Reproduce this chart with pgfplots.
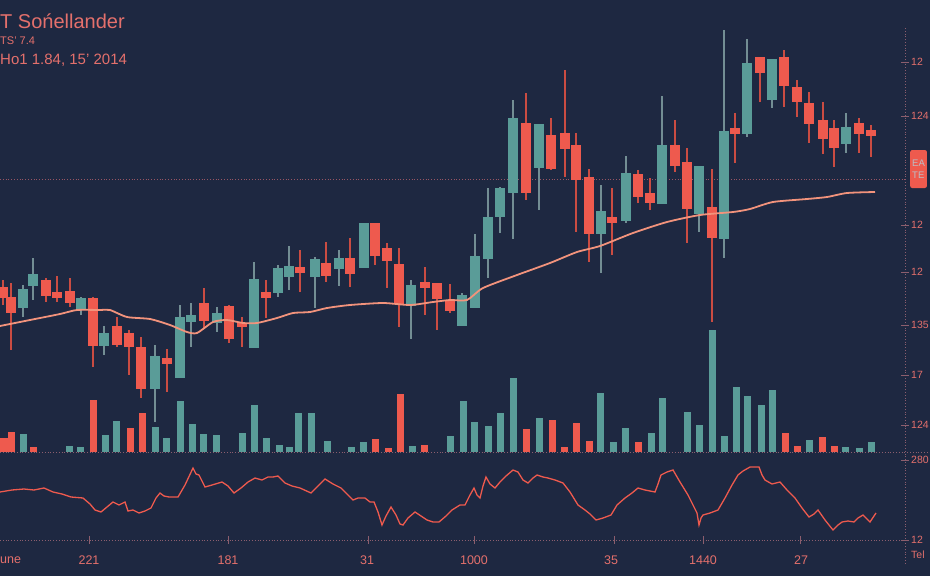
\documentclass[border=0pt]{standalone}
\usepackage{pgfplots}
\pgfplotsset{compat=1.18}
\usepackage{pgfplotstable}
\usepackage{fontspec}
\setmainfont{Liberation Sans}
\definecolor{bg}{HTML}{1E2841}
\definecolor{up}{HTML}{5A9C98}
\definecolor{upwick}{HTML}{738E94}
\definecolor{dn}{HTML}{EE5A4E}
\definecolor{ma}{HTML}{F2937C}
\definecolor{txt}{HTML}{E4706C}
\definecolor{dotc}{HTML}{8C5E6E}

% candles in picture units (y grows downward): wick top, body top, body bottom, wick bottom
\pgfplotstableread{
x wt bt bb wb
23 285 289 307 317
33 258 274 285 300
81 297 298 308 315
104 326 333 345 355
155 345 356 388 422
180 305 317 377 378
191 303 315 321 347
217 307 313 322 332
254 262 279 347 347
278 265 268 292 297
289 246 266 276 290
315 257 259 276 308
339 250 258 268 286
364 223 223 267 268
411 280 285 305 339
462 293 295 325 326
475 234 256 307 307
488 188 217 258 278
500 187 188 216 233
513 100 118 192 239
539 124 124 167 210
601 185 211 233 273
626 156 173 220 223
662 96 145 203 203
699 166 166 213 232
724 30 131 238 258
747 39 63 133 137
772 59 59 99 108
846 113 127 143 153
}\upc

\pgfplotstableread{
x wt bt bb wb
3 280 287 297 305
11 283 297 312 350
46 278 280 295 302
57 276 292 297 302
70 278 291 302 307
93 297 298 345 367
117 317 326 344 347
129 330 333 346 375
141 337 347 388 398
167 349 358 363 392
204 288 303 320 328
229 305 306 338 343
242 317 323 326 347
266 280 292 297 318
300 250 267 272 292
326 242 263 275 282
350 238 258 273 287
375 223 223 255 265
387 243 248 260 288
399 248 264 303 327
425 267 282 287 315
437 283 283 298 330
450 284 300 310 313
526 93 123 192 200
551 118 135 168 170
565 70 133 148 177
576 133 145 179 232
589 169 177 233 262
612 188 217 222 255
638 170 174 196 203
650 178 193 202 210
675 120 145 165 172
687 148 162 208 243
712 169 207 237 322
735 113 128 133 163
760 57 57 72 102
784 50 57 85 107
797 80 87 101 117
809 92 103 123 143
823 102 120 138 154
834 120 128 147 167
859 118 123 133 153
871 125 130 135 157
}\dnc

% volume bars: x, top (baseline 452)
\pgfplotstableread{
x t
23 434
69 446
80 447
105 435
116 421
155 427
166 438
180 401
192 424
203 434
216 435
242 433
254 405
266 438
279 445
289 447
298 413
311 413
327 441
351 447
363 442
412 446
450 436
463 401
474 422
488 426
500 413
513 378
539 418
600 393
613 442
625 428
651 433
662 398
687 412
699 425
712 330
724 436
736 387
747 396
761 405
772 390
809 440
845 447
859 448
871 442
}\upv

\pgfplotstableread{
x t
4 438
11 432
33 447
93 400
130 428
142 413
375 439
388 448
400 394
424 445
526 429
552 420
564 447
576 423
589 441
638 442
785 433
797 446
822 437
834 446
}\dnv

\begin{document}
\begin{tikzpicture}
\begin{axis}[
  scale only axis, width=930pt, height=576pt,
  xmin=0, xmax=930, ymin=0, ymax=576, y dir=reverse,
  hide axis, clip=true]
\fill[bg] (axis cs:0,0) rectangle (axis cs:930,576);

% guide lines
\draw[dotc!90!red, dotted, line width=0.8pt] (axis cs:0,179) -- (axis cs:905,179);
\draw[dotc, dotted, line width=0.8pt] (axis cs:0,452) -- (axis cs:930,452);
\draw[dotc, dotted, line width=0.8pt] (axis cs:0,540) -- (axis cs:905,540);
\draw[dotc, dotted, line width=0.8pt] (axis cs:905,28) -- (axis cs:905,565);
\pgfplotsinvokeforeach{62,116,225,272,325,375,425,460,540}{
  \draw[dotc, line width=0.6pt] (axis cs:901,#1) -- (axis cs:909,#1);}
\pgfplotsinvokeforeach{89,228,368,474,614,703,800}{
  \draw[dotc, line width=0.6pt] (axis cs:#1,536) -- (axis cs:#1,544);}

% volume
\addplot[draw=none, forget plot, error bars/.cd, y dir=plus, y explicit, error mark=none,
  error bar style={draw=up, line width=7pt}]
  table[x=x, y=t, y error expr={452-\thisrow{t}}] {\upv};
\addplot[draw=none, forget plot, error bars/.cd, y dir=plus, y explicit, error mark=none,
  error bar style={draw=dn, line width=7pt}]
  table[x=x, y=t, y error expr={452-\thisrow{t}}] {\dnv};

% wicks
\addplot[draw=none, forget plot, error bars/.cd, y dir=plus, y explicit, error mark=none,
  error bar style={draw=upwick, line width=1.3pt}]
  table[x=x, y=wt, y error expr={\thisrow{wb}-\thisrow{wt}}] {\upc};
\addplot[draw=none, forget plot, error bars/.cd, y dir=plus, y explicit, error mark=none,
  error bar style={draw=dn!85!black, line width=1.3pt}]
  table[x=x, y=wt, y error expr={\thisrow{wb}-\thisrow{wt}}] {\dnc};
% bodies
\addplot[draw=none, forget plot, error bars/.cd, y dir=plus, y explicit, error mark=none,
  error bar style={draw=up, line width=9.5pt}]
  table[x=x, y=bt, y error expr={\thisrow{bb}-\thisrow{bt}+1}] {\upc};
\addplot[draw=none, forget plot, error bars/.cd, y dir=plus, y explicit, error mark=none,
  error bar style={draw=dn, line width=9.5pt}]
  table[x=x, y=bt, y error expr={\thisrow{bb}-\thisrow{bt}+1}] {\dnc};

% moving average
\addplot[ma, line width=1.8pt, smooth, tension=0.4] coordinates {
(0,326) (30,320) (60,314) (77,310) (100,310) (110,310) (127,317) (150,319) (170,325)
(187,332) (197,333) (213,322) (227,320) (243,323) (257,323) (277,318) (293,313)
(310,312) (327,308) (350,305) (383,303) (410,305) (433,302) (450,300) (467,300)
(483,288) (517,275) (550,263) (577,252) (600,246) (633,233) (667,222) (700,215)
(733,212) (750,209) (773,202) (807,199) (827,197) (847,193) (875,192)};

% oscillator
\addplot[dn, line width=1.3pt] coordinates {
(0,492) (12,490) (24,489) (34,490) (44,488) (53,492) (62,494) (71,497) (83,498)
(90,504) (95,510) (101,512) (107,507) (113,502) (119,505) (125,502) (128,511)
(133,510) (139,513) (145,511) (151,508) (156,498) (160,493) (164,496) (169,497)
(178,497) (185,485) (193,468) (196,474) (199,475) (205,487) (212,485) (222,482)
(228,486) (234,493) (241,488) (248,482) (255,478) (262,480) (268,477) (273,477)
(278,476) (285,483) (292,486) (300,488) (311,493) (318,486) (325,479) (333,484)
(341,488) (347,494) (353,500) (358,498) (365,498) (370,502) (374,502) (378,512)
(382,525) (386,516) (391,507) (396,515) (400,524) (403,525) (408,518) (415,512)
(421,516) (427,520) (433,522) (439,522) (446,516) (452,510) (460,505) (465,505)
(470,495) (474,488) (477,495) (480,498) (483,486) (486,477) (490,484) (495,488)
(500,482) (506,476) (513,470) (518,472) (523,480) (528,483) (533,478) (537,475)
(543,477) (548,478) (555,480) (563,483) (570,492) (578,505) (585,510) (590,514)
(596,520) (603,518) (611,515) (617,505) (625,498) (632,493) (638,488) (645,490)
(655,492) (658,484) (661,475) (667,472) (673,470) (680,482) (688,495) (694,507)
(697,513) (699,525) (701,518) (703,515) (710,513) (718,510) (725,498) (732,485)
(738,475) (743,471) (750,467) (759,467) (762,475) (765,480) (772,484) (780,482)
(787,490) (795,498) (802,508) (809,517) (814,514) (818,510) (825,520) (833,530)
(838,525) (842,522) (848,521) (854,522) (858,518) (863,515) (867,519) (870,522)
(876,513)};

% texts
\node[anchor=base west, text=txt, font=\fontsize{20}{20}\selectfont, inner sep=0pt] at (axis cs:0,28) {T Sońellander};
\node[anchor=base west, text=txt, font=\fontsize{11}{11}\selectfont, inner sep=0pt] at (axis cs:0,44) {TS' 7.4};
\node[anchor=base west, text=txt, font=\fontsize{15}{15}\selectfont, inner sep=0pt] at (axis cs:0,64) {Ho1 1.84, 15' 2014};

\node[anchor=west, text=txt, font=\fontsize{12.5}{12.5}\selectfont, inner sep=0pt] at (axis cs:0,560) {une};
\node[text=txt, font=\fontsize{12.5}{12.5}\selectfont, inner sep=0pt] at (axis cs:89,560) {221};
\node[text=txt, font=\fontsize{12.5}{12.5}\selectfont, inner sep=0pt] at (axis cs:228,560) {181};
\node[text=txt, font=\fontsize{12.5}{12.5}\selectfont, inner sep=0pt] at (axis cs:367,560) {31};
\node[text=txt, font=\fontsize{12.5}{12.5}\selectfont, inner sep=0pt] at (axis cs:474,560) {1000};
\node[text=txt, font=\fontsize{12.5}{12.5}\selectfont, inner sep=0pt] at (axis cs:611,560) {35};
\node[text=txt, font=\fontsize{12.5}{12.5}\selectfont, inner sep=0pt] at (axis cs:703,560) {1440};
\node[text=txt, font=\fontsize{12.5}{12.5}\selectfont, inner sep=0pt] at (axis cs:801,560) {27};

\node[anchor=west, text=txt, font=\fontsize{10.5}{10.5}\selectfont, inner sep=0pt] at (axis cs:911,62) {12};
\node[anchor=west, text=txt, font=\fontsize{10.5}{10.5}\selectfont, inner sep=0pt] at (axis cs:911,116) {124};
\node[anchor=west, text=txt, font=\fontsize{10.5}{10.5}\selectfont, inner sep=0pt] at (axis cs:911,225) {12};
\node[anchor=west, text=txt, font=\fontsize{10.5}{10.5}\selectfont, inner sep=0pt] at (axis cs:911,272) {12};
\node[anchor=west, text=txt, font=\fontsize{10.5}{10.5}\selectfont, inner sep=0pt] at (axis cs:911,325) {135};
\node[anchor=west, text=txt, font=\fontsize{10.5}{10.5}\selectfont, inner sep=0pt] at (axis cs:911,375) {17};
\node[anchor=west, text=txt, font=\fontsize{10.5}{10.5}\selectfont, inner sep=0pt] at (axis cs:911,425) {124};
\node[anchor=west, text=txt, font=\fontsize{10.5}{10.5}\selectfont, inner sep=0pt] at (axis cs:911,460) {280};
\node[anchor=west, text=txt, font=\fontsize{10.5}{10.5}\selectfont, inner sep=0pt] at (axis cs:911,540) {12};
\node[anchor=west, text=txt, font=\fontsize{10.5}{10.5}\selectfont, inner sep=0pt] at (axis cs:911,555) {Tel};
\node[anchor=west, fill=dn, rounded corners=2pt, text=bg!30!white, align=left,
  font=\fontsize{9.5}{12}\selectfont, inner sep=2pt, minimum height=38pt] at (axis cs:910,169) {EA\\TE};
\end{axis}
\pgfresetboundingbox
\useasboundingbox (0,0) rectangle (930pt,576pt);
\end{tikzpicture}
\end{document}
